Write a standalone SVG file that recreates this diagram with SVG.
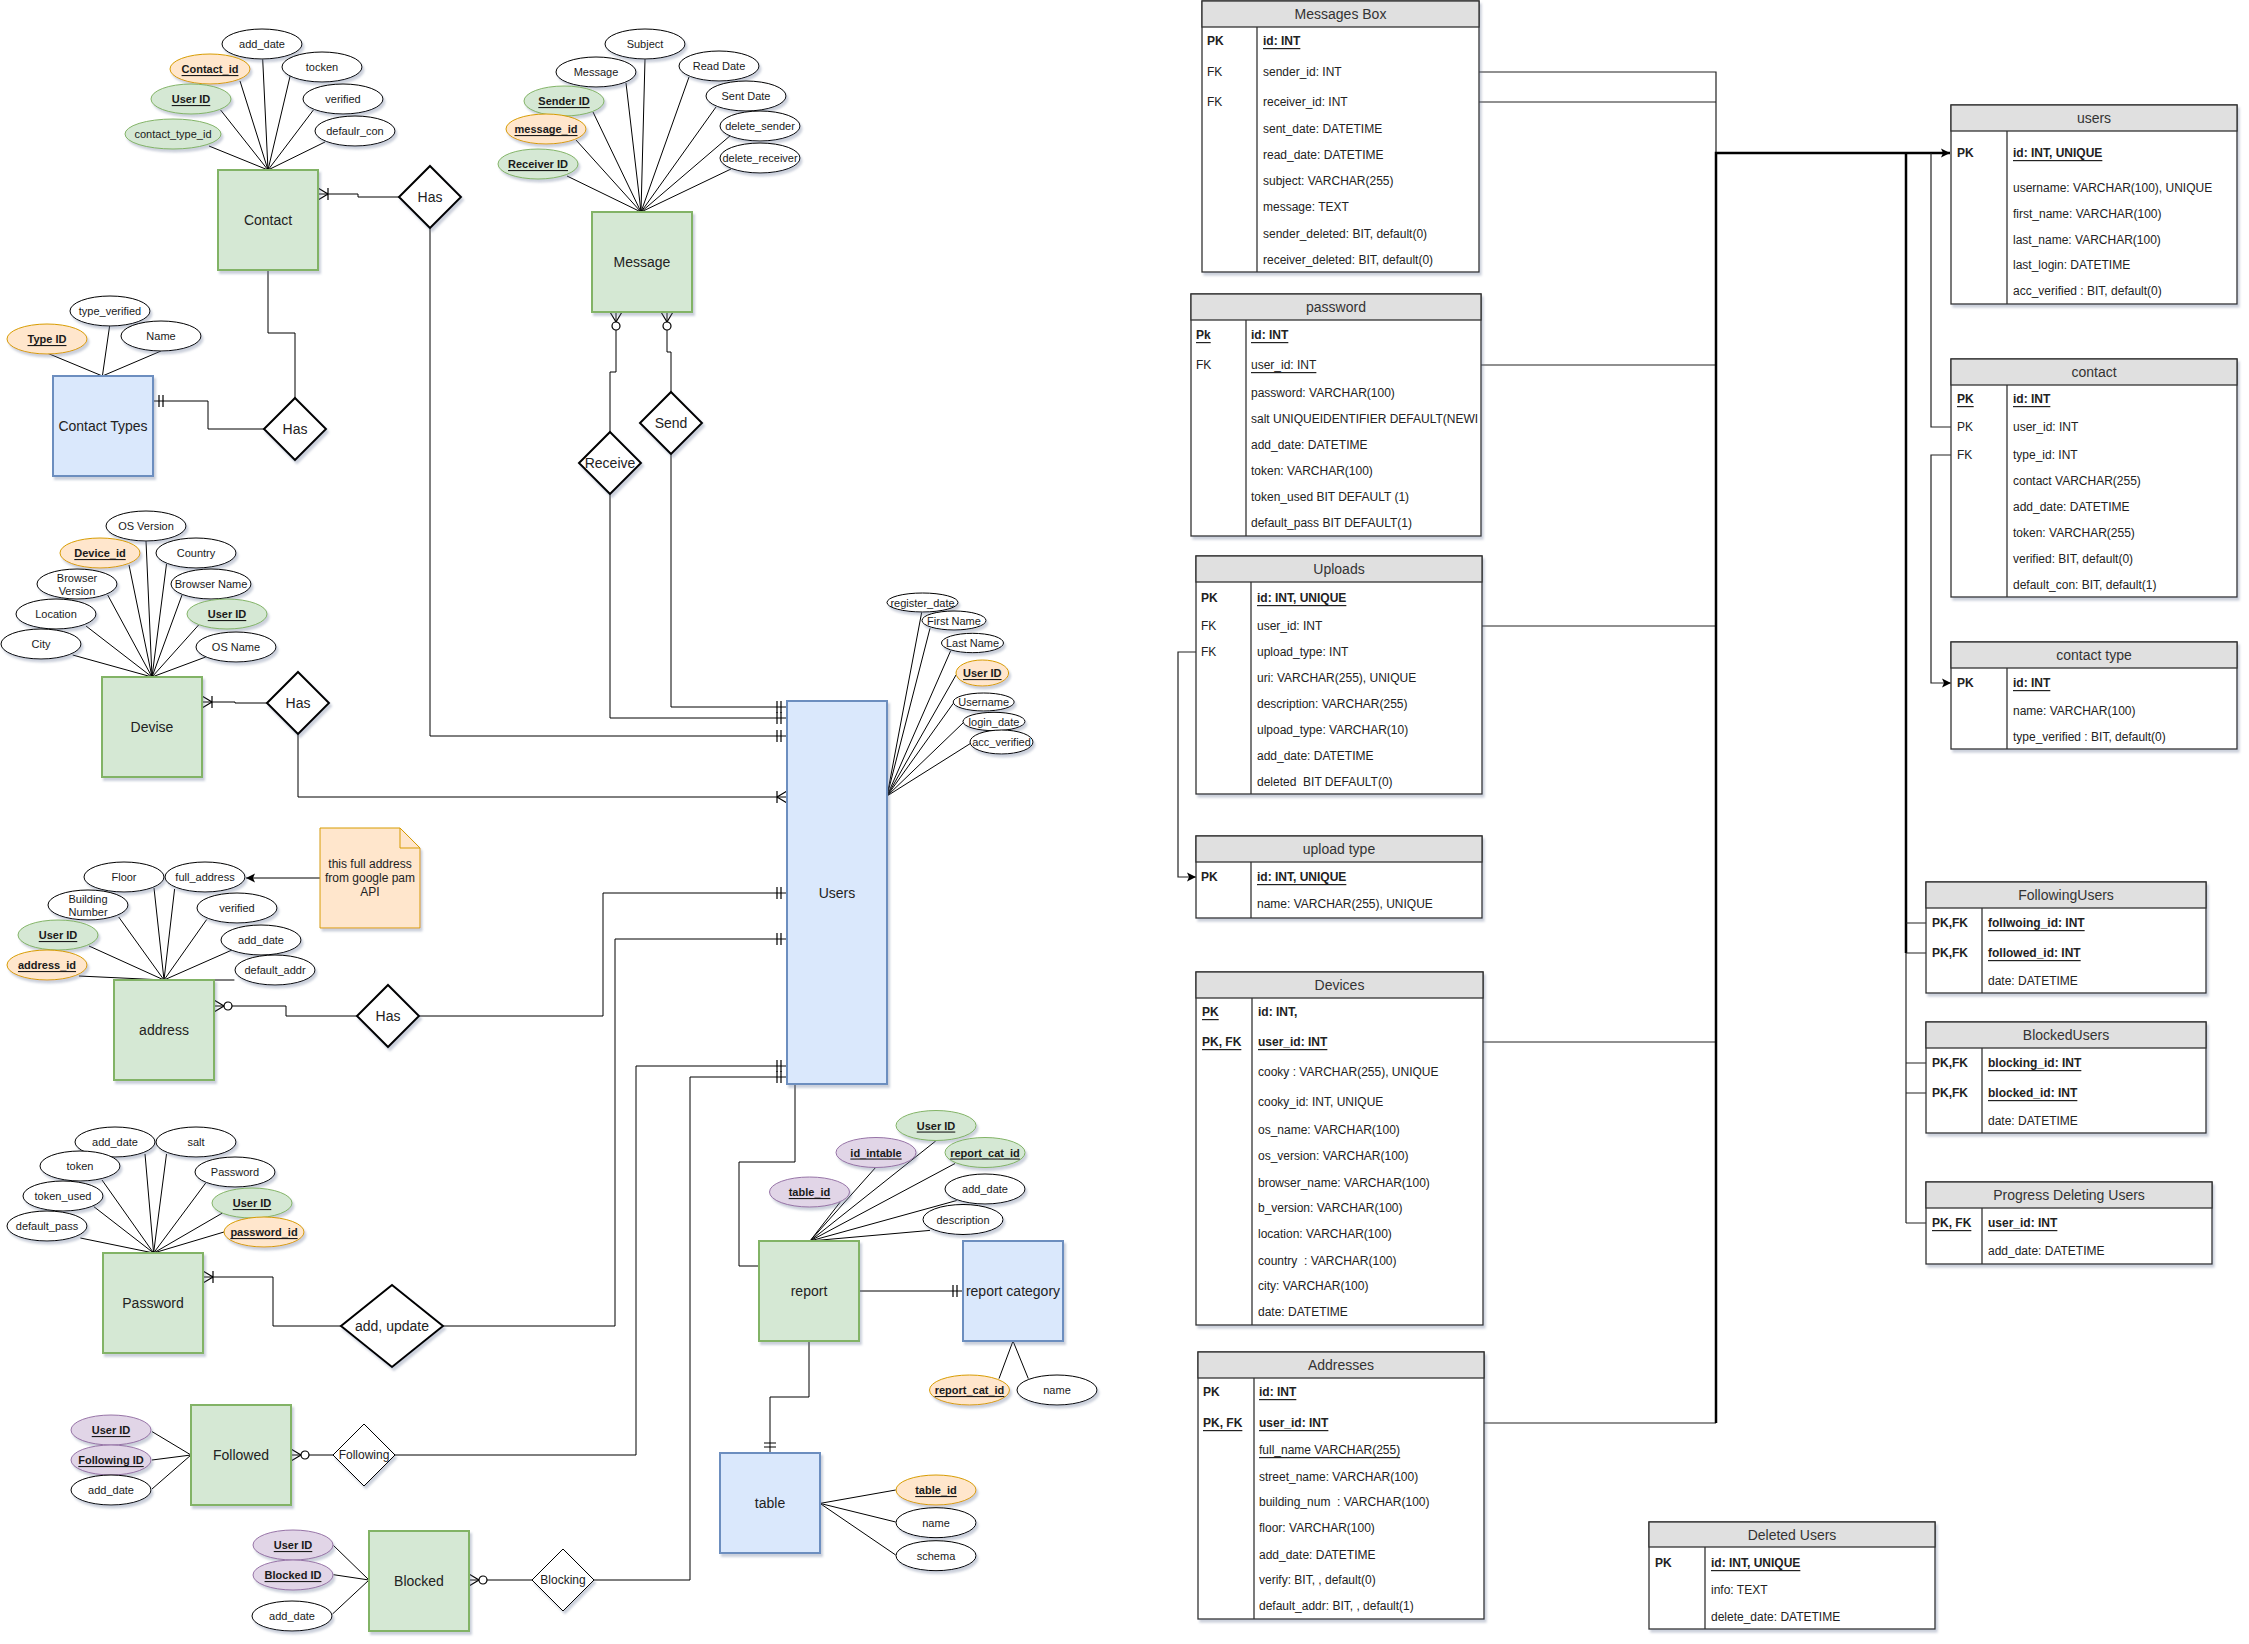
<svg xmlns="http://www.w3.org/2000/svg" width="2249" height="1644" viewBox="0 0 2249 1644">
<defs>
<style>
text{font-family:'Liberation Sans',Arial,Helvetica,sans-serif;fill:#1a1a1a}
.w{fill:#fff;stroke:#000;stroke-width:1}
.g{fill:#d5e8d4;stroke:#82b366;stroke-width:1}
.b{fill:#dae8fc;stroke:#6c8ebf;stroke-width:1}
.o{fill:#ffe6cc;stroke:#d79b00;stroke-width:1}
.p{fill:#e1d5e7;stroke:#9673a6;stroke-width:1}
.ent{stroke-width:2}
.sh{filter:url(#sh)}
.at{font-size:11px;text-anchor:middle;dominant-baseline:central}
.lb{font-size:14px;text-anchor:middle;dominant-baseline:central;fill:#222}
.nt{font-size:12px;text-anchor:middle;dominant-baseline:central;fill:#222}
.u{text-decoration:underline}
.bd{font-weight:bold}
.k{text-decoration:underline;font-weight:bold}
.dia{fill:#fff;stroke:#000;stroke-width:2}
.dia1{fill:#fff;stroke:#000;stroke-width:1}
.c{fill:none;stroke:#000;stroke-width:1}
.cg{fill:none;stroke:#222;stroke-width:1.2}
.ck{fill:none;stroke:#000;stroke-width:2.5}
.tb{fill:#fff;stroke:#333;stroke-width:1.3}
.th{fill:#e0e0e0;stroke:#333;stroke-width:1.3}
.tl{stroke:#333;stroke-width:1.3}
.tt{font-size:12px;dominant-baseline:central;fill:#222}
.ht{font-size:14px;text-anchor:middle;dominant-baseline:central;fill:#333}
</style>
<filter id="sh" x="-20%" y="-20%" width="150%" height="150%">
<feDropShadow dx="2" dy="3" stdDeviation="1.3" flood-color="#6b7899" flood-opacity="0.35"/>
</filter>
<marker id="one" viewBox="-20 -10 22 20" markerWidth="22" markerHeight="20" refX="0" refY="0" orient="auto" markerUnits="userSpaceOnUse" overflow="visible">
<path d="M-6,-6V6M-10,-6V6" fill="none" stroke="#000" stroke-width="1.2"/>
</marker>
<marker id="oneMany" viewBox="-20 -10 22 20" markerWidth="22" markerHeight="20" refX="0" refY="0" orient="auto" markerUnits="userSpaceOnUse" overflow="visible">
<path d="M-10,0L0,-6M-10,0L0,6M-10,-6V6" fill="none" stroke="#000" stroke-width="1.2"/>
</marker>
<marker id="zeroMany" viewBox="-22 -10 24 20" markerWidth="24" markerHeight="20" refX="0" refY="0" orient="auto" markerUnits="userSpaceOnUse" overflow="visible">
<path d="M-10,0L0,-6M-10,0L0,6" fill="none" stroke="#000" stroke-width="1.2"/>
<circle cx="-14" cy="0" r="4" fill="#fff" stroke="#000" stroke-width="1.2"/>
</marker>
<marker id="arr" viewBox="-12 -6 14 12" markerWidth="14" markerHeight="12" refX="0" refY="0" orient="auto" markerUnits="userSpaceOnUse" overflow="visible">
<path d="M-9,-4.5L0,0L-9,4.5L-7,0Z" fill="#000"/>
</marker>
<clipPath id="clipPw"><rect x="1191" y="294" width="287" height="242"/></clipPath>
</defs>
<rect x="0" y="0" width="2249" height="1644" fill="#fff"/>

<g id="connectors">
<path class="c" d="M268,170L262.7,59.3M268,170L240,81M268,170L292,68M268,170L220.6,110M268,170L313.4,110M268,170L209,146M268,170L325,142"/>
<path class="c" d="M641,212L645,59M641,212L626,83M641,212L689,77M641,212L593,112M641,212L716,107M641,212L576,140M641,212L731,135M641,212L567,176M641,212L731,169"/>
<path class="c" d="M102.4,376L47,353M102.4,376L109.6,326M102.4,376L161,351"/>
<path class="c" d="M152,677L146,541M152,677L129,565M152,677L166.5,564M152,677L107.7,595M152,677L182,595M152,677L86,626M152,677L198.6,625M152,677L72.7,655M152,677L205.7,657"/>
<path class="c" d="M164,980L154,888M164,980L174.6,889M164,980L118.7,917M164,980L206.7,919.5M164,980L89,946M164,980L232,950M164,980L79,976M164,980L234.4,980"/>
<path class="c" d="M153.6,1253L145,1154M153.6,1253L166.5,1154M153.6,1253L102,1180M153.6,1253L205.7,1183M153.6,1253L93.8,1206.6M153.6,1253L222.5,1213M153.6,1253L80.4,1238M153.6,1253L224,1232"/>
<path class="c" d="M191,1455L152,1431.6M191,1455L152,1460M191,1455L152,1489"/>
<path class="c" d="M369,1580L333.5,1545.5M369,1580L333.5,1574.7M369,1580L332.5,1614"/>
<path class="c" d="M810,1241L935.7,1141M810,1241L875.7,1167.4M810,1241L955,1163.5M810,1241L840,1202.3M810,1241L956.7,1200.5M810,1241L930,1230.4"/>
<path class="c" d="M1013,1341L999,1378.6M1013,1341L1028.3,1378.6"/>
<path class="c" d="M820,1503.4L895.7,1490M820,1503.4L895.7,1522M820,1503.4L895.7,1555"/>
<path class="c" d="M887,796L921.7,612.3M887,796L930,628.3M887,796L950.7,650.7M887,796L956,675M887,796L953.3,703.3M887,796L963.3,722.7M887,796L970.7,743.3"/>
<path class="c" d="M399,197H358V194H318" marker-end="url(#oneMany)"/>
<path class="c" d="M430,228V736H787" marker-end="url(#one)"/>
<path class="c" d="M268,270V333H295V398"/>
<path class="c" d="M264,429H208V401H153" marker-end="url(#one)"/>
<path class="c" d="M610,432V372H616V312" marker-end="url(#zeroMany)"/>
<path class="c" d="M671,392V352H667V312" marker-end="url(#zeroMany)"/>
<path class="c" d="M610,494V718H787" marker-end="url(#one)"/>
<path class="c" d="M671,454V707H787" marker-end="url(#one)"/>
<path class="c" d="M267,703H235V702H202" marker-end="url(#oneMany)"/>
<path class="c" d="M298,734V797H787" marker-end="url(#oneMany)"/>
<path class="c" d="M357,1016H286V1006H214" marker-end="url(#zeroMany)"/>
<path class="c" d="M419,1016H603V893H787" marker-end="url(#one)"/>
<path class="c" d="M341,1326H273V1277H203" marker-end="url(#oneMany)"/>
<path class="c" d="M443,1326H615V939H787" marker-end="url(#one)"/>
<path class="c" d="M333,1455H291" marker-end="url(#zeroMany)"/>
<path class="c" d="M395,1455H636V1066H787" marker-end="url(#one)"/>
<path class="c" d="M532,1580H469" marker-end="url(#zeroMany)"/>
<path class="c" d="M594,1580H690V1077H787" marker-end="url(#one)"/>
<path class="c" d="M795,1084V1162H739V1266H759"/>
<path class="c" d="M859,1291H963" marker-end="url(#one)"/>
<path class="c" d="M809,1341V1397H770V1453" marker-end="url(#one)"/>
<path class="c" d="M320,878H246" marker-end="url(#arr)"/>
<path class="cg" d="M1479,72H1716V153M1479,102H1716M1481,365H1716M1482,626H1716M1483,1042H1716M1484,1423H1716"/>
<path class="ck" d="M1716,1423V153H1950" marker-end="url(#arr)"/>
<path class="ck" d="M1906,153V953"/>
<path class="cg" d="M1906,953V1223M1906,923H1926M1906,953H1926M1906,1063H1926M1906,1093H1926M1906,1223H1926"/>
<path class="cg" d="M1951,427H1931V153"/>
<path class="cg" d="M1951,455H1931V683H1951" marker-end="url(#arr)"/>
<path class="cg" d="M1196,652H1178V877H1196" marker-end="url(#arr)"/>
</g>

<g id="e-contact"><rect class="g ent sh" x="218" y="170" width="100" height="100"/><text class="lb" x="268" y="220">Contact</text></g>
<g id="e-contact-types"><rect class="b ent sh" x="53" y="376" width="100" height="100"/><text class="lb" x="103" y="426">Contact Types</text></g>
<g id="e-message"><rect class="g ent sh" x="592" y="212" width="100" height="100"/><text class="lb" x="642" y="262">Message</text></g>
<g id="e-devise"><rect class="g ent sh" x="102" y="677" width="100" height="100"/><text class="lb" x="152" y="727">Devise</text></g>
<g id="e-address"><rect class="g ent sh" x="114" y="980" width="100" height="100"/><text class="lb" x="164" y="1030">address</text></g>
<g id="e-password"><rect class="g ent sh" x="103" y="1253" width="100" height="100"/><text class="lb" x="153" y="1303">Password</text></g>
<g id="e-followed"><rect class="g ent sh" x="191" y="1405" width="100" height="100"/><text class="lb" x="241" y="1455">Followed</text></g>
<g id="e-blocked"><rect class="g ent sh" x="369" y="1531" width="100" height="100"/><text class="lb" x="419" y="1581">Blocked</text></g>
<g id="e-users"><rect class="b ent sh" x="787" y="701" width="100" height="383"/><text class="lb" x="837" y="893">Users</text></g>
<g id="e-report"><rect class="g ent sh" x="759" y="1241" width="100" height="100"/><text class="lb" x="809" y="1291">report</text></g>
<g id="e-report-category"><rect class="b ent sh" x="963" y="1241" width="100" height="100"/><text class="lb" x="1013" y="1291">report category</text></g>
<g id="e-table"><rect class="b ent sh" x="720" y="1453" width="100" height="100"/><text class="lb" x="770" y="1503">table</text></g>

<g id="r-has-contact"><path class="dia sh" d="M430,166L461,197L430,228L399,197Z"/><text class="lb" x="430" y="197">Has</text></g>
<g id="r-has-contact-type"><path class="dia sh" d="M295,398L326,429L295,460L264,429Z"/><text class="lb" x="295" y="429">Has</text></g>
<g id="r-receive"><path class="dia sh" d="M610,432L641,463L610,494L579,463Z"/><text class="lb" x="610" y="463">Receive</text></g>
<g id="r-send"><path class="dia sh" d="M671,392L702,423L671,454L640,423Z"/><text class="lb" x="671" y="423">Send</text></g>
<g id="r-has-devise"><path class="dia sh" d="M298,672L329,703L298,734L267,703Z"/><text class="lb" x="298" y="703">Has</text></g>
<g id="r-has-address"><path class="dia sh" d="M388,985L419,1016L388,1047L357,1016Z"/><text class="lb" x="388" y="1016">Has</text></g>
<g id="r-add-update"><path class="dia sh" d="M392,1285L443,1326L392,1367L341,1326Z"/><text class="lb" x="392" y="1326">add, update</text></g>
<g id="r-following"><path class="dia1 sh" d="M364,1424L395,1455L364,1486L333,1455Z"/><text class="nt" x="364" y="1455">Following</text></g>
<g id="r-blocking"><path class="dia1 sh" d="M563,1549L594,1580L563,1611L532,1580Z"/><text class="nt" x="563" y="1580">Blocking</text></g>

<g id="n-note"><path class="o sh" d="M320,828H400L420,848V928H320Z"/><path d="M400,828V848H420" fill="none" stroke="#d79b00"/>
<text class="nt" x="370" y="864">this full address</text><text class="nt" x="370" y="878">from google pam</text><text class="nt" x="370" y="892">API</text></g>

<g id="a-contact-add-date"><ellipse class="w sh" cx="262" cy="44" rx="40" ry="15"/><text class="at" x="262" y="44">add_date</text></g>
<g id="a-contact-id"><ellipse class="o sh" cx="210" cy="69" rx="40" ry="15"/><text class="at k" x="210" y="69">Contact_id</text></g>
<g id="a-contact-token"><ellipse class="w sh" cx="322" cy="67" rx="40" ry="15"/><text class="at" x="322" y="67">tocken</text></g>
<g id="a-contact-user-id"><ellipse class="g sh" cx="191" cy="99" rx="40" ry="15"/><text class="at k" x="191" y="99">User ID</text></g>
<g id="a-contact-verified"><ellipse class="w sh" cx="343" cy="99" rx="40" ry="15"/><text class="at" x="343" y="99">verified</text></g>
<g id="a-contact-type-id"><ellipse class="g sh" cx="173" cy="134" rx="48" ry="15"/><text class="at" x="173" y="134">contact_type_id</text></g>
<g id="a-contact-default"><ellipse class="w sh" cx="355" cy="131" rx="40" ry="15"/><text class="at" x="355" y="131">defaulr_con</text></g>

<g id="a-ct-type-verified"><ellipse class="w sh" cx="110" cy="311" rx="40" ry="15"/><text class="at" x="110" y="311">type_verified</text></g>
<g id="a-ct-type-id"><ellipse class="o sh" cx="47" cy="339" rx="40" ry="15"/><text class="at k" x="47" y="339">Type ID</text></g>
<g id="a-ct-name"><ellipse class="w sh" cx="161" cy="336" rx="40" ry="15"/><text class="at" x="161" y="336">Name</text></g>

<g id="a-msg-subject"><ellipse class="w sh" cx="645" cy="44" rx="40" ry="15"/><text class="at" x="645" y="44">Subject</text></g>
<g id="a-msg-message"><ellipse class="w sh" cx="596" cy="72" rx="40" ry="15"/><text class="at" x="596" y="72">Message</text></g>
<g id="a-msg-read-date"><ellipse class="w sh" cx="719" cy="66" rx="40" ry="15"/><text class="at" x="719" y="66">Read Date</text></g>
<g id="a-msg-sender-id"><ellipse class="g sh" cx="564" cy="101" rx="40" ry="15"/><text class="at k" x="564" y="101">Sender ID</text></g>
<g id="a-msg-sent-date"><ellipse class="w sh" cx="746" cy="96" rx="40" ry="15"/><text class="at" x="746" y="96">Sent Date</text></g>
<g id="a-msg-id"><ellipse class="o sh" cx="546" cy="129" rx="40" ry="15"/><text class="at k" x="546" y="129">message_id</text></g>
<g id="a-msg-delete-sender"><ellipse class="w sh" cx="760" cy="126" rx="40" ry="15"/><text class="at" x="760" y="126">delete_sender</text></g>
<g id="a-msg-receiver-id"><ellipse class="g sh" cx="538" cy="164" rx="40" ry="15"/><text class="at k" x="538" y="164">Receiver ID</text></g>
<g id="a-msg-delete-receiver"><ellipse class="w sh" cx="760" cy="158" rx="40" ry="15"/><text class="at" x="760" y="158">delete_receiver</text></g>

<g id="a-dev-os-version"><ellipse class="w sh" cx="146" cy="526" rx="40" ry="15"/><text class="at" x="146" y="526">OS Version</text></g>
<g id="a-dev-id"><ellipse class="o sh" cx="100" cy="553" rx="40" ry="15"/><text class="at k" x="100" y="553">Device_id</text></g>
<g id="a-dev-country"><ellipse class="w sh" cx="196" cy="553" rx="40" ry="15"/><text class="at" x="196" y="553">Country</text></g>
<g id="a-dev-browser-version"><ellipse class="w sh" cx="77" cy="584" rx="40" ry="15"/><text class="at" x="77" y="578">Browser</text><text class="at" x="77" y="591">Version</text></g>
<g id="a-dev-browser-name"><ellipse class="w sh" cx="211" cy="584" rx="40" ry="15"/><text class="at" x="211" y="584">Browser Name</text></g>
<g id="a-dev-location"><ellipse class="w sh" cx="56" cy="614" rx="40" ry="15"/><text class="at" x="56" y="614">Location</text></g>
<g id="a-dev-user-id"><ellipse class="g sh" cx="227" cy="614" rx="40" ry="15"/><text class="at k" x="227" y="614">User ID</text></g>
<g id="a-dev-city"><ellipse class="w sh" cx="41" cy="644" rx="40" ry="15"/><text class="at" x="41" y="644">City</text></g>
<g id="a-dev-os-name"><ellipse class="w sh" cx="236" cy="647" rx="40" ry="15"/><text class="at" x="236" y="647">OS Name</text></g>

<g id="a-adr-floor"><ellipse class="w sh" cx="124" cy="877" rx="40" ry="15"/><text class="at" x="124" y="877">Floor</text></g>
<g id="a-adr-full"><ellipse class="w sh" cx="205" cy="877" rx="40" ry="15"/><text class="at" x="205" y="877">full_address</text></g>
<g id="a-adr-building"><ellipse class="w sh" cx="88" cy="905" rx="40" ry="15"/><text class="at" x="88" y="899">Building</text><text class="at" x="88" y="912">Number</text></g>
<g id="a-adr-verified"><ellipse class="w sh" cx="237" cy="908" rx="40" ry="15"/><text class="at" x="237" y="908">verified</text></g>
<g id="a-adr-user-id"><ellipse class="g sh" cx="58" cy="935" rx="40" ry="15"/><text class="at k" x="58" y="935">User ID</text></g>
<g id="a-adr-add-date"><ellipse class="w sh" cx="261" cy="940" rx="40" ry="15"/><text class="at" x="261" y="940">add_date</text></g>
<g id="a-adr-id"><ellipse class="o sh" cx="47" cy="965" rx="40" ry="15"/><text class="at k" x="47" y="965">address_id</text></g>
<g id="a-adr-default"><ellipse class="w sh" cx="275" cy="970" rx="40" ry="15"/><text class="at" x="275" y="970">default_addr</text></g>

<g id="a-pw-add-date"><ellipse class="w sh" cx="115" cy="1142" rx="40" ry="15"/><text class="at" x="115" y="1142">add_date</text></g>
<g id="a-pw-salt"><ellipse class="w sh" cx="196" cy="1142" rx="40" ry="15"/><text class="at" x="196" y="1142">salt</text></g>
<g id="a-pw-token"><ellipse class="w sh" cx="80" cy="1166" rx="40" ry="15"/><text class="at" x="80" y="1166">token</text></g>
<g id="a-pw-password"><ellipse class="w sh" cx="235" cy="1172" rx="40" ry="15"/><text class="at" x="235" y="1172">Password</text></g>
<g id="a-pw-token-used"><ellipse class="w sh" cx="63" cy="1196" rx="40" ry="15"/><text class="at" x="63" y="1196">token_used</text></g>
<g id="a-pw-user-id"><ellipse class="g sh" cx="252" cy="1203" rx="40" ry="15"/><text class="at k" x="252" y="1203">User ID</text></g>
<g id="a-pw-default"><ellipse class="w sh" cx="47" cy="1226" rx="40" ry="15"/><text class="at" x="47" y="1226">default_pass</text></g>
<g id="a-pw-id"><ellipse class="o sh" cx="264" cy="1232" rx="40" ry="15"/><text class="at k" x="264" y="1232">password_id</text></g>

<g id="a-fol-user-id"><ellipse class="p sh" cx="111" cy="1430" rx="40" ry="15"/><text class="at k" x="111" y="1430">User ID</text></g>
<g id="a-fol-following-id"><ellipse class="p sh" cx="111" cy="1460" rx="40" ry="15"/><text class="at k" x="111" y="1460">Following ID</text></g>
<g id="a-fol-add-date"><ellipse class="w sh" cx="111" cy="1490" rx="40" ry="15"/><text class="at" x="111" y="1490">add_date</text></g>
<g id="a-blk-user-id"><ellipse class="p sh" cx="293" cy="1545" rx="40" ry="15"/><text class="at k" x="293" y="1545">User ID</text></g>
<g id="a-blk-blocked-id"><ellipse class="p sh" cx="293" cy="1575" rx="40" ry="15"/><text class="at k" x="293" y="1575">Blocked ID</text></g>
<g id="a-blk-add-date"><ellipse class="w sh" cx="292" cy="1616" rx="40" ry="15"/><text class="at" x="292" y="1616">add_date</text></g>

<g id="a-usr-register-date"><ellipse class="w sh" cx="922.5" cy="602.5" rx="35.5" ry="9.5"/><text class="at" x="922.5" y="602.5">register_date</text></g>
<g id="a-usr-first-name"><ellipse class="w sh" cx="954" cy="620.5" rx="32" ry="9.5"/><text class="at" x="954" y="620.5">First Name</text></g>
<g id="a-usr-last-name"><ellipse class="w sh" cx="972.5" cy="643" rx="31" ry="9.7"/><text class="at" x="972.5" y="643">Last Name</text></g>
<g id="a-usr-user-id"><ellipse class="o sh" cx="982.3" cy="673" rx="26.3" ry="13"/><text class="at k" x="982.3" y="673">User ID</text></g>
<g id="a-usr-username"><ellipse class="w sh" cx="983.7" cy="702" rx="30.5" ry="9"/><text class="at" x="983.7" y="702">Username</text></g>
<g id="a-usr-login-date"><ellipse class="w sh" cx="994" cy="721.5" rx="31" ry="9.2"/><text class="at" x="994" y="721.5">login_date</text></g>
<g id="a-usr-acc-verified"><ellipse class="w sh" cx="1001.5" cy="742" rx="31.5" ry="12"/><text class="at" x="1001.5" y="742">acc_verified</text></g>

<g id="a-rep-user-id"><ellipse class="g sh" cx="936" cy="1125.5" rx="40" ry="15"/><text class="at k" x="936" y="1125.5">User ID</text></g>
<g id="a-rep-id-intable"><ellipse class="p sh" cx="876" cy="1152.5" rx="40" ry="15"/><text class="at k" x="876" y="1152.5">id_intable</text></g>
<g id="a-rep-cat-id"><ellipse class="g sh" cx="985" cy="1152.5" rx="40" ry="15"/><text class="at k" x="985" y="1152.5">report_cat_id</text></g>
<g id="a-rep-table-id"><ellipse class="p sh" cx="809.5" cy="1192" rx="40" ry="15"/><text class="at k" x="809.5" y="1192">table_id</text></g>
<g id="a-rep-add-date"><ellipse class="w sh" cx="985" cy="1189" rx="40" ry="15"/><text class="at" x="985" y="1189">add_date</text></g>
<g id="a-rep-description"><ellipse class="w sh" cx="963" cy="1219.5" rx="40" ry="15"/><text class="at" x="963" y="1219.5">description</text></g>
<g id="a-rc-id"><ellipse class="o sh" cx="969.5" cy="1390" rx="40" ry="15"/><text class="at k" x="969.5" y="1390">report_cat_id</text></g>
<g id="a-rc-name"><ellipse class="w sh" cx="1057" cy="1390" rx="40" ry="15"/><text class="at" x="1057" y="1390">name</text></g>
<g id="a-tb-id"><ellipse class="o sh" cx="936" cy="1490" rx="40" ry="15"/><text class="at k" x="936" y="1490">table_id</text></g>
<g id="a-tb-name"><ellipse class="w sh" cx="936" cy="1522.7" rx="40" ry="15"/><text class="at" x="936" y="1522.7">name</text></g>
<g id="a-tb-schema"><ellipse class="w sh" cx="936" cy="1555.7" rx="40" ry="15"/><text class="at" x="936" y="1555.7">schema</text></g>

<g id="t-messages-box">
<rect class="tb sh" x="1202" y="1" width="277" height="271"/><rect class="th" x="1202" y="1" width="277" height="26"/>
<line class="tl" x1="1257" y1="27" x2="1257" y2="272"/>
<text class="ht" x="1340.5" y="14">Messages Box</text>
<text class="tt bd" x="1207" y="41">PK</text><text class="tt bd u" x="1263" y="41">id: INT</text>
<text class="tt" x="1207" y="72">FK</text><text class="tt" x="1263" y="72">sender_id: INT</text>
<text class="tt" x="1207" y="102">FK</text><text class="tt" x="1263" y="102">receiver_id: INT</text>
<text class="tt" x="1263" y="129">sent_date: DATETIME</text>
<text class="tt" x="1263" y="155">read_date: DATETIME</text>
<text class="tt" x="1263" y="181">subject: VARCHAR(255)</text>
<text class="tt" x="1263" y="207">message: TEXT</text>
<text class="tt" x="1263" y="234">sender_deleted: BIT, default(0)</text>
<text class="tt" x="1263" y="260">receiver_deleted: BIT, default(0)</text>
</g>
<g id="t-password">
<rect class="tb sh" x="1191" y="294" width="290" height="242"/><rect class="th" x="1191" y="294" width="290" height="26"/>
<line class="tl" x1="1246" y1="320" x2="1246" y2="536"/>
<text class="ht" x="1336" y="307">password</text>
<text class="tt bd u" x="1196" y="335">Pk</text><text class="tt bd u" x="1251" y="335">id: INT</text>
<text class="tt" x="1196" y="365">FK</text><text class="tt u" x="1251" y="365">user_id: INT</text>
<text class="tt" x="1251" y="393">password: VARCHAR(100)</text>
<text class="tt" x="1251" y="419" clip-path="url(#clipPw)">salt UNIQUEIDENTIFIER DEFAULT(NEWID())</text>
<text class="tt" x="1251" y="445">add_date: DATETIME</text>
<text class="tt" x="1251" y="471">token: VARCHAR(100)</text>
<text class="tt" x="1251" y="497">token_used BIT DEFAULT (1)</text>
<text class="tt" x="1251" y="523">default_pass BIT DEFAULT(1)</text>
</g>
<g id="t-uploads">
<rect class="tb sh" x="1196" y="556" width="286" height="238"/><rect class="th" x="1196" y="556" width="286" height="26"/>
<line class="tl" x1="1251" y1="582" x2="1251" y2="794"/>
<text class="ht" x="1339" y="569">Uploads</text>
<text class="tt bd" x="1201" y="598">PK</text><text class="tt bd u" x="1257" y="598">id: INT, UNIQUE</text>
<text class="tt" x="1201" y="626">FK</text><text class="tt" x="1257" y="626">user_id: INT</text>
<text class="tt" x="1201" y="652">FK</text><text class="tt" x="1257" y="652">upload_type: INT</text>
<text class="tt" x="1257" y="678">uri: VARCHAR(255), UNIQUE</text>
<text class="tt" x="1257" y="704">description: VARCHAR(255)</text>
<text class="tt" x="1257" y="730">ulpoad_type: VARCHAR(10)</text>
<text class="tt" x="1257" y="756">add_date: DATETIME</text>
<text class="tt" x="1257" y="782" xml:space="preserve">deleted  BIT DEFAULT(0)</text>
</g>
<g id="t-upload-type">
<rect class="tb sh" x="1196" y="836" width="286" height="82"/><rect class="th" x="1196" y="836" width="286" height="26"/>
<line class="tl" x1="1251" y1="862" x2="1251" y2="918"/>
<text class="ht" x="1339" y="849">upload type</text>
<text class="tt bd" x="1201" y="877">PK</text><text class="tt bd u" x="1257" y="877">id: INT, UNIQUE</text>
<text class="tt" x="1257" y="904">name: VARCHAR(255), UNIQUE</text>
</g>
<g id="t-devices">
<rect class="tb sh" x="1196" y="972" width="287" height="353"/><rect class="th" x="1196" y="972" width="287" height="26"/>
<line class="tl" x1="1252" y1="998" x2="1252" y2="1325"/>
<text class="ht" x="1339.5" y="985">Devices</text>
<text class="tt bd u" x="1202" y="1012">PK</text><text class="tt bd" x="1258" y="1012">id: INT,</text>
<text class="tt bd u" x="1202" y="1042">PK, FK</text><text class="tt bd u" x="1258" y="1042">user_id: INT</text>
<text class="tt" x="1258" y="1072">cooky : VARCHAR(255), UNIQUE</text>
<text class="tt" x="1258" y="1102">cooky_id: INT, UNIQUE</text>
<text class="tt" x="1258" y="1130">os_name: VARCHAR(100)</text>
<text class="tt" x="1258" y="1156">os_version: VARCHAR(100)</text>
<text class="tt" x="1258" y="1183">browser_name: VARCHAR(100)</text>
<text class="tt" x="1258" y="1208">b_version: VARCHAR(100)</text>
<text class="tt" x="1258" y="1234">location: VARCHAR(100)</text>
<text class="tt" x="1258" y="1261" xml:space="preserve">country  : VARCHAR(100)</text>
<text class="tt" x="1258" y="1286">city: VARCHAR(100)</text>
<text class="tt" x="1258" y="1312">date: DATETIME</text>
</g>
<g id="t-addresses">
<rect class="tb sh" x="1198" y="1352" width="286" height="267"/><rect class="th" x="1198" y="1352" width="286" height="26"/>
<line class="tl" x1="1254" y1="1378" x2="1254" y2="1619"/>
<text class="ht" x="1341" y="1365">Addresses</text>
<text class="tt bd" x="1203" y="1392">PK</text><text class="tt bd u" x="1259" y="1392">id: INT</text>
<text class="tt bd u" x="1203" y="1423">PK, FK</text><text class="tt bd u" x="1259" y="1423">user_id: INT</text>
<text class="tt u" x="1259" y="1450">full_name VARCHAR(255)</text>
<text class="tt" x="1259" y="1477">street_name: VARCHAR(100)</text>
<text class="tt" x="1259" y="1502" xml:space="preserve">building_num  : VARCHAR(100)</text>
<text class="tt" x="1259" y="1528">floor: VARCHAR(100)</text>
<text class="tt" x="1259" y="1555">add_date: DATETIME</text>
<text class="tt" x="1259" y="1580">verify: BIT, , default(0)</text>
<text class="tt" x="1259" y="1606">default_addr: BIT, , default(1)</text>
</g>
<g id="t-users">
<rect class="tb sh" x="1951" y="105" width="286" height="199"/><rect class="th" x="1951" y="105" width="286" height="26"/>
<line class="tl" x1="2007" y1="131" x2="2007" y2="304"/>
<text class="ht" x="2094" y="118">users</text>
<text class="tt bd" x="1957" y="153">PK</text><text class="tt bd u" x="2013" y="153">id: INT, UNIQUE</text>
<text class="tt" x="2013" y="188">username: VARCHAR(100), UNIQUE</text>
<text class="tt" x="2013" y="214">first_name: VARCHAR(100)</text>
<text class="tt" x="2013" y="240">last_name: VARCHAR(100)</text>
<text class="tt" x="2013" y="265">last_login: DATETIME</text>
<text class="tt" x="2013" y="291">acc_verified : BIT, default(0)</text>
</g>
<g id="t-contact">
<rect class="tb sh" x="1951" y="359" width="286" height="238"/><rect class="th" x="1951" y="359" width="286" height="26"/>
<line class="tl" x1="2007" y1="385" x2="2007" y2="597"/>
<text class="ht" x="2094" y="372">contact</text>
<text class="tt bd u" x="1957" y="399">PK</text><text class="tt bd u" x="2013" y="399">id: INT</text>
<text class="tt" x="1957" y="427">PK</text><text class="tt" x="2013" y="427">user_id: INT</text>
<text class="tt" x="1957" y="455">FK</text><text class="tt" x="2013" y="455">type_id: INT</text>
<text class="tt" x="2013" y="481">contact VARCHAR(255)</text>
<text class="tt" x="2013" y="507">add_date: DATETIME</text>
<text class="tt" x="2013" y="533">token: VARCHAR(255)</text>
<text class="tt" x="2013" y="559">verified: BIT, default(0)</text>
<text class="tt" x="2013" y="585">default_con: BIT, default(1)</text>
</g>
<g id="t-contact-type">
<rect class="tb sh" x="1951" y="642" width="286" height="107"/><rect class="th" x="1951" y="642" width="286" height="26"/>
<line class="tl" x1="2007" y1="668" x2="2007" y2="749"/>
<text class="ht" x="2094" y="655">contact type</text>
<text class="tt bd" x="1957" y="683">PK</text><text class="tt bd u" x="2013" y="683">id: INT</text>
<text class="tt" x="2013" y="711">name: VARCHAR(100)</text>
<text class="tt" x="2013" y="737">type_verified : BIT, default(0)</text>
</g>
<g id="t-following-users">
<rect class="tb sh" x="1926" y="882" width="280" height="111"/><rect class="th" x="1926" y="882" width="280" height="26"/>
<line class="tl" x1="1982" y1="908" x2="1982" y2="993"/>
<text class="ht" x="2066" y="895">FollowingUsers</text>
<text class="tt bd" x="1932" y="923">PK,FK</text><text class="tt bd u" x="1988" y="923">follwoing_id: INT</text>
<text class="tt bd" x="1932" y="953">PK,FK</text><text class="tt bd u" x="1988" y="953">followed_id: INT</text>
<text class="tt" x="1988" y="981">date: DATETIME</text>
</g>
<g id="t-blocked-users">
<rect class="tb sh" x="1926" y="1022" width="280" height="111"/><rect class="th" x="1926" y="1022" width="280" height="26"/>
<line class="tl" x1="1982" y1="1048" x2="1982" y2="1133"/>
<text class="ht" x="2066" y="1035">BlockedUsers</text>
<text class="tt bd" x="1932" y="1063">PK,FK</text><text class="tt bd u" x="1988" y="1063">blocking_id: INT</text>
<text class="tt bd" x="1932" y="1093">PK,FK</text><text class="tt bd u" x="1988" y="1093">blocked_id: INT</text>
<text class="tt" x="1988" y="1121">date: DATETIME</text>
</g>
<g id="t-progress-deleting-users">
<rect class="tb sh" x="1926" y="1182" width="286" height="82"/><rect class="th" x="1926" y="1182" width="286" height="26"/>
<line class="tl" x1="1982" y1="1208" x2="1982" y2="1264"/>
<text class="ht" x="2069" y="1195">Progress Deleting Users</text>
<text class="tt bd u" x="1932" y="1223">PK, FK</text><text class="tt bd u" x="1988" y="1223">user_id: INT</text>
<text class="tt" x="1988" y="1251">add_date: DATETIME</text>
</g>
<g id="t-deleted-users">
<rect class="tb sh" x="1649" y="1522" width="286" height="107"/><rect class="th" x="1649" y="1522" width="286" height="25"/>
<line class="tl" x1="1705" y1="1547" x2="1705" y2="1629"/>
<text class="ht" x="1792" y="1535">Deleted Users</text>
<text class="tt bd" x="1655" y="1563">PK</text><text class="tt bd u" x="1711" y="1563">id: INT, UNIQUE</text>
<text class="tt" x="1711" y="1590">info: TEXT</text>
<text class="tt" x="1711" y="1617">delete_date: DATETIME</text>
</g>
</svg>
